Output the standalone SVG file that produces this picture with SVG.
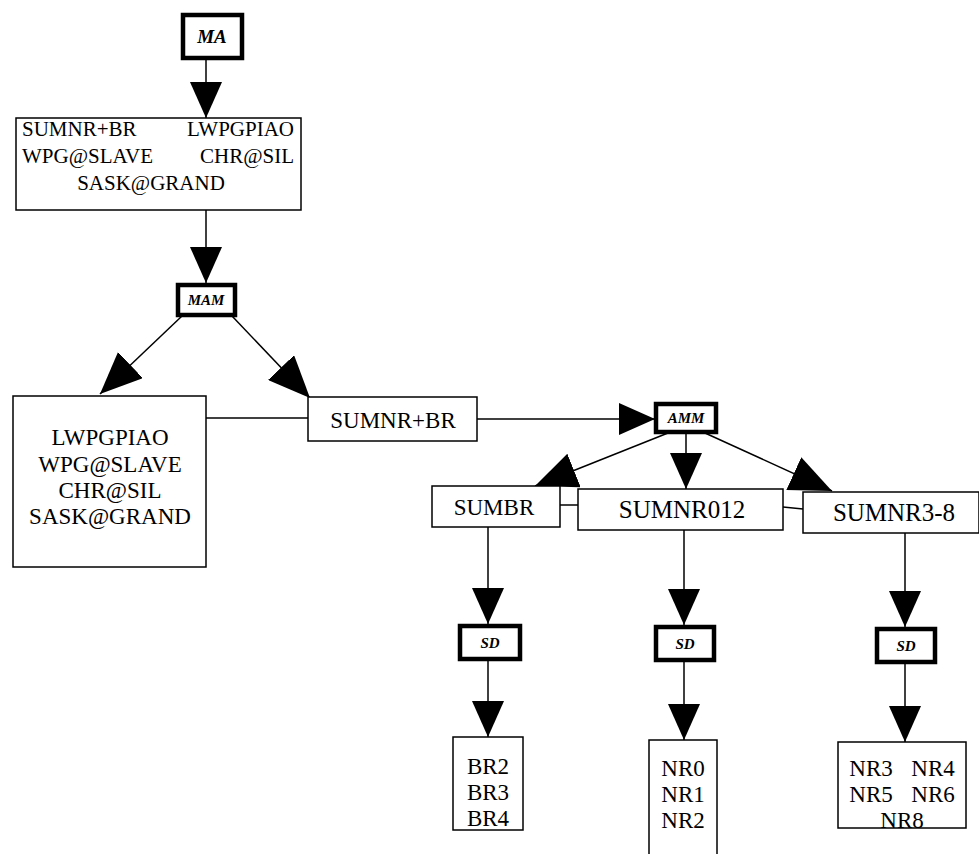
<svg xmlns="http://www.w3.org/2000/svg" width="979" height="854" viewBox="0 0 979 854">
<defs>
<marker id="ah" markerUnits="userSpaceOnUse" markerWidth="36" markerHeight="32" viewBox="0 0 36 32" refX="36" refY="16" orient="auto">
<path d="M0,0 L36,16 L0,32 z" fill="#000"/>
</marker>
<marker id="ahb" markerUnits="userSpaceOnUse" markerWidth="42" markerHeight="36" viewBox="0 0 42 36" refX="42" refY="18" orient="auto">
<path d="M0,0 L42,18 L0,36 z" fill="#000"/>
</marker>
<style>
.box{fill:#fff;stroke:#000;stroke-width:1.5}
.op{fill:#fff;stroke:#000;stroke-width:4.5}
.t{font-family:"Liberation Serif","Times New Roman",serif;font-size:23px;fill:#000;text-anchor:middle}
.tt{font-family:"Liberation Serif","Times New Roman",serif;font-size:21px;fill:#000}
.o{font-family:"Liberation Serif","Times New Roman",serif;font-weight:bold;font-style:italic;font-size:15px;fill:#000;text-anchor:middle}
.c{stroke:#000;stroke-width:1.5;fill:none}
.ca{stroke:#000;stroke-width:1.5;fill:none;marker-end:url(#ah)}
.cb{stroke:#000;stroke-width:1.5;fill:none;marker-end:url(#ahb)}
</style>
</defs>
<rect width="979" height="854" fill="#fff"/>
<g id="connectors">
<line class="ca" x1="206" y1="59" x2="206" y2="118"/>
<line class="ca" x1="206" y1="210" x2="206" y2="283"/>
<line class="cb" x1="182" y1="316" x2="100" y2="394"/>
<line class="cb" x1="232" y1="316" x2="310" y2="398"/>
<line class="c" x1="206" y1="418" x2="308" y2="418"/>
<line class="ca" x1="477" y1="419" x2="655" y2="419"/>
<line class="cb" x1="668" y1="433" x2="535" y2="486"/>
<line class="ca" x1="686" y1="433" x2="686" y2="489"/>
<line class="cb" x1="705" y1="433" x2="832" y2="491"/>
<line class="c" x1="560" y1="505" x2="578" y2="505"/>
<line class="c" x1="783" y1="507" x2="803" y2="509"/>
<line class="ca" x1="488" y1="527" x2="488" y2="624"/>
<line class="ca" x1="488" y1="660" x2="488" y2="737"/>
<line class="ca" x1="684" y1="530" x2="684" y2="625"/>
<line class="ca" x1="684" y1="661" x2="684" y2="740"/>
<line class="ca" x1="905" y1="533" x2="905" y2="627"/>
<line class="ca" x1="905" y1="663" x2="905" y2="742"/>
</g>
<g id="MA">
<rect class="op" x="183" y="15" width="59" height="43"/>
<text class="o" x="212" y="43" style="font-size:19px">MA</text>
</g>
<g id="top">
<rect class="box" x="16" y="118" width="285" height="92"/>
<text class="tt" x="22" y="136">SUMNR+BR</text>
<text class="tt" x="294" y="136" text-anchor="end">LWPGPIAO</text>
<text class="tt" x="22" y="163">WPG@SLAVE</text>
<text class="tt" x="294" y="163" text-anchor="end">CHR@SIL</text>
<text class="tt" x="151" y="190" text-anchor="middle">SASK@GRAND</text>
</g>
<g id="MAM">
<rect class="op" x="178" y="285" width="57" height="30"/>
<text class="o" x="206" y="305">MAM</text>
</g>
<g id="left">
<rect class="box" x="13" y="396" width="193" height="171"/>
<text class="t" x="110" y="445">LWPGPIAO</text>
<text class="t" x="110" y="472">WPG@SLAVE</text>
<text class="t" x="110" y="498">CHR@SIL</text>
<text class="t" x="110" y="524">SASK@GRAND</text>
</g>
<g id="sumnrbr">
<rect class="box" x="308" y="397" width="169" height="44"/>
<text class="t" x="393" y="428">SUMNR+BR</text>
</g>
<g id="AMM">
<rect class="op" x="656" y="404" width="60" height="28"/>
<text class="o" x="686" y="423">AMM</text>
</g>
<g id="sumbr">
<rect class="box" x="432" y="486" width="128" height="41"/>
<text class="t" x="494" y="515">SUMBR</text>
</g>
<g id="sumnr012">
<rect class="box" x="578" y="489" width="205" height="41"/>
<text class="t" x="682" y="518" style="font-size:25px">SUMNR012</text>
</g>
<g id="sumnr38">
<rect class="box" x="803" y="492" width="176" height="41"/>
<text class="t" x="894" y="521" style="font-size:25px">SUMNR3-8</text>
</g>
<g id="sd1">
<rect class="op" x="460" y="626" width="60" height="33"/>
<text class="o" x="490" y="648">SD</text>
</g>
<g id="sd2">
<rect class="op" x="656" y="627" width="58" height="33"/>
<text class="o" x="685" y="649">SD</text>
</g>
<g id="sd3">
<rect class="op" x="877" y="629" width="58" height="33"/>
<text class="o" x="906" y="651">SD</text>
</g>
<g id="br">
<rect class="box" x="453" y="737" width="70" height="93"/>
<text class="t" x="488" y="774">BR2</text>
<text class="t" x="488" y="800">BR3</text>
<text class="t" x="488" y="826">BR4</text>
</g>
<g id="nr012">
<rect class="box" x="649" y="740" width="68" height="120"/>
<text class="t" x="683" y="776">NR0</text>
<text class="t" x="683" y="802">NR1</text>
<text class="t" x="683" y="828">NR2</text>
</g>
<g id="nr38">
<rect class="box" x="838" y="742" width="128" height="86"/>
<text class="t" x="871" y="776">NR3</text>
<text class="t" x="933" y="776">NR4</text>
<text class="t" x="871" y="802">NR5</text>
<text class="t" x="933" y="802">NR6</text>
<text class="t" x="902" y="828">NR8</text>
</g>
</svg>
